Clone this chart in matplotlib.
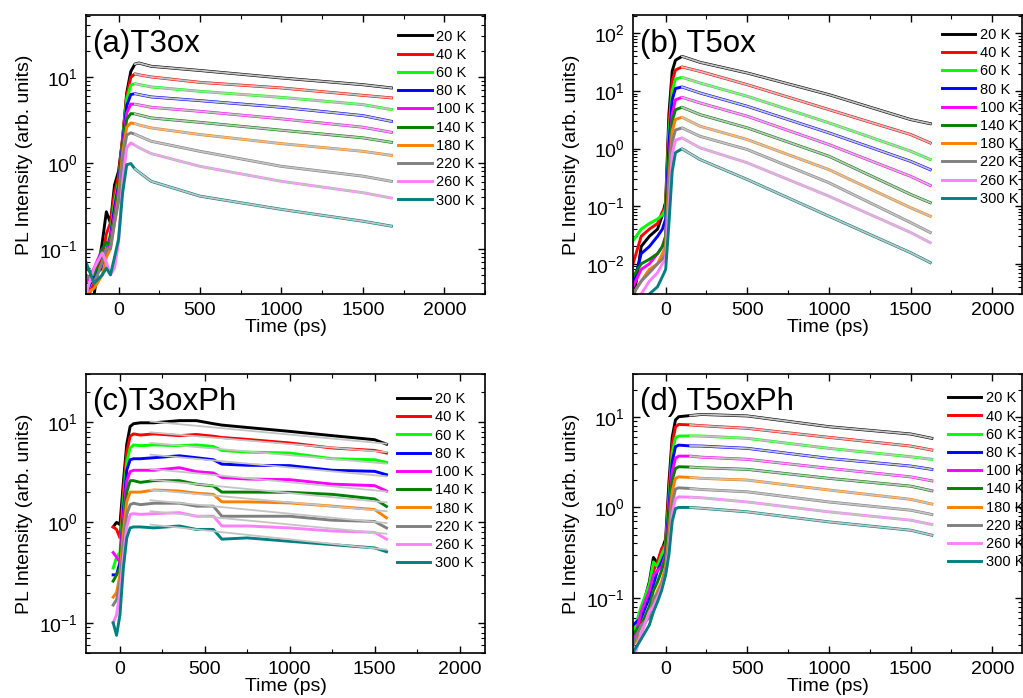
import matplotlib
matplotlib.use("Agg")
import matplotlib.pyplot as plt
from matplotlib.ticker import LogLocator, MultipleLocator, NullFormatter

plt.rcParams['font.family'] = ['Liberation Sans', 'DejaVu Sans']
plt.rcParams['mathtext.fontset'] = 'custom'
plt.rcParams['mathtext.rm'] = 'Liberation Sans'
plt.rcParams['mathtext.it'] = 'Liberation Sans:italic'
plt.rcParams['mathtext.bf'] = 'Liberation Sans:bold'

temps = ['20 K', '40 K', '60 K', '80 K', '100 K', '140 K', '180 K', '220 K', '260 K', '300 K']
colors = ['#000000', '#FF0000', '#00FF00', '#0000FF', '#FF00FF',
          '#008000', '#FF8000', '#808080', '#FF80FF', '#008080']
fit_color = '#C4C4C4'

# ---------------- (a) T3ox ----------------
t_a = [-200, -150, -100, -75, -50, -25, 0, 25, 50, 75, 100, 125, 200, 500, 1000, 1500, 1675]
a20 = [0.02, 0.03, 0.12, 0.27, 0.2, 0.55, 0.8, 1.9, 6.5, 11.5, 14.0, 14.4, 13.2, 11.8, 9.66, 8.07, 7.4]
a40 = [0.025, 0.04, 0.08, 0.15, 0.2, 0.45, 0.7, 2.0, 6.0, 9.8, 10.8, 10.5, 9.93, 8.59, 7.4, 6.07, 5.67]
a60 = [0.05, 0.04, 0.07, 0.1, 0.15, 0.35, 0.6, 1.8, 5.5, 8.0, 8.3, 8.1, 7.6, 6.76, 5.75, 4.74, 4.15]
a80 = [0.03, 0.05, 0.06, 0.09, 0.14, 0.3, 0.55, 1.7, 4.6, 6.2, 6.35, 6.2, 5.82, 5.27, 4.41, 3.53, 3.03]
a100 = [0.04, 0.06, 0.1, 0.09, 0.13, 0.25, 0.5, 1.5, 3.8, 4.8, 4.8, 4.7, 4.41, 3.96, 3.24, 2.59, 2.26]
a140 = [0.06, 0.05, 0.1, 0.12, 0.11, 0.22, 0.45, 1.4, 3.2, 3.72, 3.7, 3.6, 3.32, 2.95, 2.39, 1.95, 1.73]
a180 = [0.03, 0.035, 0.05, 0.08, 0.1, 0.2, 0.4, 1.3, 2.6, 2.9, 2.85, 2.75, 2.54, 2.13, 1.67, 1.36, 1.22]
a220 = [0.05, 0.04, 0.07, 0.1, 0.1, 0.2, 0.35, 1.1, 2.1, 2.23, 2.15, 2.05, 1.78, 1.36, 0.91, 0.70, 0.61]
a260 = [0.03, 0.06, 0.09, 0.07, 0.05, 0.06, 0.12, 0.6, 1.5, 1.7, 1.6, 1.5, 1.28, 0.91, 0.61, 0.45, 0.39]
a300 = [0.07, 0.04, 0.05, 0.06, 0.05, 0.08, 0.13, 0.45, 0.95, 0.98, 0.85, 0.78, 0.61, 0.41, 0.288, 0.21, 0.184]
fit_from_a = 100

# ---------------- (b) T5ox ----------------
t_b = [-200, -150, -100, -50, -20, 0, 20, 40, 60, 100, 210, 500, 1000, 1500, 1620]
b20 = [0.002, 0.02, 0.03, 0.04, 0.07, 0.12, 4.0, 22, 34, 39.7, 31.3, 20.4, 8.6, 3.18, 2.7]
b40 = [0.01, 0.03, 0.04, 0.05, 0.08, 0.1, 2.5, 15, 23, 26, 21.8, 12.8, 4.73, 1.75, 1.25]
b60 = [0.025, 0.04, 0.05, 0.06, 0.07, 0.09, 1.8, 10, 16, 17.2, 13.7, 8.05, 2.79, 0.9, 0.645]
b80 = [0.004, 0.015, 0.02, 0.03, 0.04, 0.06, 1.2, 7, 11, 11.7, 9.2, 5.4, 1.87, 0.6, 0.43]
b100 = [0.004, 0.008, 0.01, 0.015, 0.02, 0.03, 0.6, 4.0, 7.0, 7.73, 6.18, 3.63, 1.17, 0.33, 0.229]
b140 = [0.006, 0.01, 0.012, 0.015, 0.02, 0.03, 0.5, 3.0, 4.7, 5.2, 3.88, 2.28, 0.735, 0.16, 0.115]
b180 = [0.003, 0.005, 0.008, 0.01, 0.015, 0.02, 0.3, 2.0, 3.2, 3.48, 2.44, 1.43, 0.43, 0.094, 0.067]
b220 = [0.003, 0.005, 0.007, 0.01, 0.012, 0.015, 0.2, 1.3, 2.1, 2.28, 1.63, 0.96, 0.255, 0.052, 0.035]
b260 = [0.002, 0.003, 0.005, 0.007, 0.01, 0.012, 0.1, 0.8, 1.4, 1.53, 1.03, 0.565, 0.149, 0.035, 0.0233]
b300 = [0.002, 0.002, 0.003, 0.004, 0.006, 0.008, 0.05, 0.4, 0.85, 0.99, 0.645, 0.29, 0.067, 0.0156, 0.0105]
fit_from_b = 100

# ---------------- (c) T3oxPh ----------------
t_c = [-40, -20, 0, 20, 40, 60, 80, 120, 200, 350, 450, 550, 600, 750, 1000, 1250, 1500, 1570]
c20 = [0.9, 1.0, 0.95, 2.5, 6.0, 9.0, 9.6, 9.8, 9.8, 10.3, 10.3, 9.6, 9.3, 8.8, 8.05, 7.3, 6.65, 6.0]
c40 = [0.9, 0.85, 0.7, 2.0, 5.0, 7.2, 7.6, 7.4, 7.6, 7.3, 7.5, 7.2, 7.0, 6.7, 6.17, 5.5, 5.2, 4.9]
c60 = [0.35, 0.45, 0.5, 1.6, 4.0, 5.5, 5.9, 5.8, 5.9, 5.8, 5.9, 5.7, 5.2, 5.0, 4.9, 4.3, 4.2, 3.95]
c80 = [0.3, 0.3, 0.4, 1.3, 3.3, 4.2, 4.3, 4.3, 4.4, 4.6, 4.4, 4.2, 3.8, 3.7, 3.67, 3.3, 3.22, 2.98]
c100 = [0.5, 0.45, 0.4, 1.1, 2.6, 3.2, 3.3, 3.3, 3.3, 3.5, 3.2, 3.1, 2.8, 2.7, 2.66, 2.4, 2.32, 2.05]
c140 = [0.26, 0.3, 0.35, 0.9, 2.0, 2.6, 2.6, 2.5, 2.6, 2.6, 2.4, 2.3, 2.0, 2.0, 1.99, 1.9, 1.71, 1.44]
c180 = [0.18, 0.2, 0.3, 0.8, 1.6, 2.0, 2.0, 2.0, 2.1, 2.05, 1.95, 1.9, 1.6, 1.6, 1.56, 1.45, 1.34, 1.11]
c220 = [0.15, 0.17, 0.25, 0.6, 1.2, 1.5, 1.55, 1.5, 1.55, 1.55, 1.45, 1.45, 1.15, 1.15, 1.15, 1.05, 1.02, 0.88]
c260 = [0.1, 0.12, 0.2, 0.45, 0.9, 1.2, 1.22, 1.2, 1.22, 1.25, 1.15, 1.15, 0.92, 0.92, 0.88, 0.82, 0.795, 0.68]
c300 = [0.1, 0.075, 0.12, 0.35, 0.7, 0.88, 0.9, 0.9, 0.88, 0.92, 0.85, 0.85, 0.68, 0.7, 0.647, 0.6, 0.556, 0.51]
c_fit_t = [180, 1570]
c_fit_start = [10.1, 7.87, 6.17, 4.72, 3.4, 2.66, 2.11, 1.66, 1.29, 0.95]
c_fit_end = [6.07, 5.0, 3.84, 2.87, 2.03, 1.58, 1.29, 0.985, 0.77, 0.535]

# ---------------- (d) T5oxPh ----------------
t_d = [-200, -150, -100, -75, -50, -25, 0, 20, 40, 60, 80, 150, 220, 500, 1000, 1500, 1630]
d20 = [0.04, 0.07, 0.15, 0.28, 0.24, 0.33, 0.45, 1.9, 6.0, 9.3, 10.1, 10.4, 10.7, 10.3, 7.83, 6.5, 5.82]
d40 = [0.03, 0.06, 0.12, 0.2, 0.25, 0.35, 0.4, 1.5, 5.0, 7.8, 8.3, 8.2, 8.03, 7.51, 5.97, 4.78, 4.32]
d60 = [0.04, 0.08, 0.14, 0.25, 0.22, 0.3, 0.38, 1.2, 4.0, 5.9, 6.17, 6.2, 6.17, 5.82, 4.51, 3.64, 3.41]
d80 = [0.05, 0.06, 0.1, 0.14, 0.2, 0.25, 0.32, 1.0, 3.2, 4.7, 4.9, 4.8, 4.78, 4.51, 3.49, 2.87, 2.64]
d100 = [0.03, 0.07, 0.12, 0.18, 0.2, 0.22, 0.3, 0.8, 2.5, 3.5, 3.7, 3.7, 3.6, 3.41, 2.71, 2.18, 1.97]
d140 = [0.04, 0.05, 0.08, 0.12, 0.15, 0.2, 0.28, 0.7, 2.0, 2.7, 2.82, 2.8, 2.75, 2.64, 2.1, 1.72, 1.53]
d180 = [0.03, 0.04, 0.07, 0.09, 0.12, 0.15, 0.22, 0.5, 1.5, 2.1, 2.18, 2.15, 2.1, 2.01, 1.56, 1.23, 1.09]
d220 = [0.03, 0.05, 0.06, 0.1, 0.11, 0.14, 0.2, 0.4, 1.1, 1.6, 1.65, 1.62, 1.58, 1.49, 1.15, 0.933, 0.836]
d260 = [0.02, 0.04, 0.07, 0.08, 0.1, 0.13, 0.18, 0.35, 0.85, 1.25, 1.31, 1.3, 1.28, 1.15, 0.894, 0.723, 0.648]
d300 = [0.025, 0.035, 0.05, 0.07, 0.09, 0.12, 0.18, 0.3, 0.7, 0.97, 1.0, 1.0, 0.98, 0.894, 0.692, 0.56, 0.493]
fit_from_d = 150

panel_titles = ['(a)T3ox', '(b) T5ox', '(c)T3oxPh', '(d) T5oxPh']
xlims = [(-200, 2250), (-200, 2182), (-200, 2150), (-200, 2182)]
ylims = [(0.03, 52), (0.003, 207), (0.05, 30), (0.0245, 30)]

fig = plt.figure(figsize=(10.23, 6.98), dpi=100)
W, H = 1023, 698
def add_ax(l, t, r, b):
    return fig.add_axes([l / W, 1 - b / H, (r - l) / W, (b - t) / H])

axes = [add_ax(86, 15, 485, 294), add_ax(633, 15, 1022, 294),
        add_ax(86, 374, 485, 653), add_ax(633, 374, 1022, 653)]

panels = [
    (t_a, [a20, a40, a60, a80, a100, a140, a180, a220, a260, a300], fit_from_a),
    (t_b, [b20, b40, b60, b80, b100, b140, b180, b220, b260, b300], fit_from_b),
    (t_c, [c20, c40, c60, c80, c100, c140, c180, c220, c260, c300], None),
    (t_d, [d20, d40, d60, d80, d100, d140, d180, d220, d260, d300], fit_from_d),
]
legend_pos = [(0.782, 0.948), (0.794, 0.954), (0.779, 0.935), (0.809, 0.938)]
label_y = [0.95, 0.95, 0.955, 0.955]

for k, ax in enumerate(axes):
    t, curves, fit_from = panels[k]
    for i, vals in enumerate(curves):
        ax.plot(t, vals, color=colors[i], lw=2.1, label=temps[i], zorder=2)
    for i, vals in enumerate(curves):
        if fit_from is not None:
            tt = [x for x in t if x >= fit_from]
            vv = [v for x, v in zip(t, vals) if x >= fit_from]
        else:
            tt = c_fit_t
            vv = [c_fit_start[i], c_fit_end[i]]
        ax.plot(tt, vv, color=fit_color, lw=1.3, zorder=3)
    ax.set_yscale('log')
    ax.set_xlim(*xlims[k])
    ax.set_ylim(*ylims[k])
    ax.xaxis.set_major_locator(MultipleLocator(500))
    ax.xaxis.set_minor_locator(MultipleLocator(250))
    ax.yaxis.set_major_locator(LogLocator(base=10))
    ax.yaxis.set_minor_locator(LogLocator(base=10, subs=[2, 3, 4, 5, 6, 7, 8, 9]))
    ax.yaxis.set_minor_formatter(NullFormatter())
    ax.tick_params(which='both', direction='in', top=True, right=True, labelsize=14)
    ax.tick_params(which='major', length=5, width=1.0, pad=6)
    ax.tick_params(which='minor', length=3, width=0.8)
    for s in ax.spines.values():
        s.set_linewidth(1.2)
    ax.set_xlabel('Time (ps)', fontsize=14, labelpad=0)
    ax.set_ylabel('PL Intensity (arb. units)', fontsize=14, labelpad=4)
    ax.text(0.015 if k % 2 == 0 else 0.018, label_y[k], panel_titles[k], transform=ax.transAxes,
            fontsize=22.5, va='top', ha='left')
    ax.legend(loc='upper left', bbox_to_anchor=legend_pos[k], frameon=False, fontsize=10.5,
              handlelength=2.3, handletextpad=0.3, labelspacing=0.29, borderpad=0,
              borderaxespad=0)

fig.savefig('out.png', dpi=100)
